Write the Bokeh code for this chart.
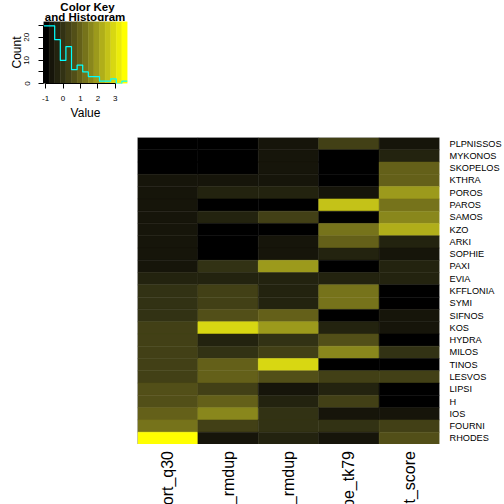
import math
import numpy as np
from bokeh.plotting import figure
from bokeh.models import (Range1d, FactorRange, FixedTicker, LinearColorMapper,
                          ColumnDataSource, Span, Spacer)
from bokeh.layouts import column, row
from bokeh.transform import transform
from bokeh.core.properties import value
from bokeh.embed import file_html
from bokeh.resources import INLINE

# ---------------- data ----------------
rows = ["PLPNISSOS", "MYKONOS", "SKOPELOS", "KTHRA", "POROS", "PAROS", "SAMOS",
        "KZO", "ARKI", "SOPHIE", "PAXI", "EVIA", "KFFLONIA", "SYMI", "SIFNOS",
        "KOS", "HYDRA", "MILOS", "TINOS", "LESVOS", "LIPSI", "H", "IOS",
        "FOURNI", "RHODES"]
col_labels = ["ort_q30", "_rmdup", "_rmdup", "pe_tk79", "t_score"]

col1 = [-0.97, -1.12, -0.97, -0.65, -0.65, -0.65, -0.65, -0.65, -0.65, -0.65,
        -0.65, -0.33, 0.00, 0.00, 0.00, 0.32, 0.32, 0.32, 0.32, 0.32,
        0.64, 0.64, 0.97, 1.29, 3.70]
col2 = [-0.97, -0.97, -0.97, -0.65, -0.33, -0.97, -0.33, -0.97, -0.97, -0.97,
        0.00, -0.33, 0.32, 0.32, 0.64, 2.91, -0.33, 0.00, 0.97, 0.97,
        0.32, 0.97, 1.61, 0.32, -0.65]
col3 = [-0.65, -0.65, -0.65, -0.65, -0.33, -0.97, 0.32, -0.97, -0.65, -0.65,
        1.94, -0.33, -0.33, -0.33, 0.97, 1.94, 0.00, 0.32, 2.91, 0.64,
        -0.65, -0.33, 0.00, 0.00, -0.33]
col4 = [0.32, -0.97, -0.97, -0.97, -0.65, 2.59, -0.97, 1.29, 0.97, -0.33,
        -0.97, -0.33, 1.29, 1.29, -0.97, -0.33, 0.64, 1.61, -0.97, 0.32,
        -0.33, 0.32, -0.65, 0.00, -0.65]
col5 = [-0.65, -0.33, 0.97, 0.97, 1.94, 1.29, 1.61, 2.26, -0.33, -0.65,
        -0.33, -0.33, -0.97, -0.97, -0.65, -0.65, -0.97, 0.00, -0.97, 0.32,
        -0.97, -0.97, -0.65, 0.32, 0.64]
columns = [col1, col2, col3, col4, col5]

palette = ["#000000", "#16150a", "#23230f", "#323214", "#424016", "#524f18",
           "#646019", "#76731b", "#89871c", "#9c9a1c", "#b0ae1a", "#c4c218",
           "#d8d712", "#ebeb0b", "#ffff00"]

key_title = ["Color Key", "and Histogram"]
key_xticks = [-1, 0, 1, 2, 3]
key_yticks = [0, 5, 10, 15, 20, 25]
key_ylabels = ["0", "", "10", "", "20", ""]

FONT = "Liberation Sans"

vals = np.array(columns, dtype=float)
vmin, vmax = float(vals.min()), float(vals.max())
breaks = np.linspace(vmin, vmax, len(palette) + 1)
counts, _ = np.histogram(vals.ravel(), bins=breaks)
hy = np.append(counts, counts[-1])
ytop = hy.max() / 0.931

mapper = LinearColorMapper(palette=palette, low=vmin, high=vmax)


def bare(p):
    p.grid.visible = False
    p.outline_line_color = None
    return p


FL, FR = 43, 10   # left / right borders of the key panel

# ---------------- key title (pixel coordinates) ----------------
tfig = bare(figure(width=137, height=21, x_range=Range1d(FL, 137 - FR), y_range=Range1d(21, 0),
                   x_axis_location=None, y_axis_location=None,
                   min_border_left=FL, min_border_right=FR, min_border_top=0,
                   min_border_bottom=0, output_backend="svg", toolbar_location=None))
tfig.text(x=[87, 84.5], y=[6, 16.5], text=key_title,
          text_align="center", text_baseline="alphabetic", text_font_style="bold",
          text_font_size="11.5px", text_font=value(FONT), text_color="black")

# ---------------- color key ----------------
key = bare(figure(width=137, height=116, x_range=Range1d(vmin, vmax), y_range=Range1d(0, ytop),
                  min_border_left=FL, min_border_right=FR, min_border_top=0,
                  min_border_bottom=54, output_backend="svg", toolbar_location=None))
key.quad(left=breaks[:-1], right=breaks[1:], bottom=0, top=ytop,
         fill_color=palette, line_color=palette, line_width=0.5)
key.step(x=breaks, y=hy, mode="after", line_color="cyan", line_width=1.2)

xa = key.xaxis[0]
xa.ticker = FixedTicker(ticks=key_xticks)
xa.major_label_overrides = {t: str(t) for t in key_xticks}
xa.bounds = (key_xticks[0], key_xticks[-1])
xa.major_tick_out = 5
xa.major_tick_in = 0
xa.minor_tick_line_color = None
xa.major_label_standoff = 7
xa.major_label_text_font_size = "8px"
xa.major_label_text_font = FONT
xa.major_label_text_color = "black"
xa.axis_label = "Value"
xa.axis_label_text_font_size = "12px"
xa.axis_label_text_font_style = "normal"
xa.axis_label_text_font = FONT
xa.axis_label_text_color = "black"
xa.axis_label_standoff = 2

yax = key.yaxis[0]
yax.ticker = FixedTicker(ticks=key_yticks)
yax.major_label_overrides = dict(zip(key_yticks, key_ylabels))
yax.bounds = (key_yticks[0], key_yticks[-1])
yax.major_tick_out = 5
yax.major_tick_in = 0
yax.minor_tick_line_color = None
yax.major_label_orientation = "parallel"
yax.major_label_standoff = 9
yax.major_label_text_font_size = "8px"
yax.major_label_text_font = FONT
yax.major_label_text_color = "black"
yax.axis_label = "Count"
yax.axis_label_text_font_size = "12px"
yax.axis_label_text_font_style = "normal"
yax.axis_label_text_font = FONT
yax.axis_label_text_color = "black"
yax.axis_label_standoff = -2

# ---------------- heatmap ----------------
xs, ys, vs = [], [], []
for j, col in enumerate(columns):
    for i, r in enumerate(rows):
        xs.append(j)
        ys.append(r)
        vs.append(col[i])
src = ColumnDataSource(dict(x=xs, y=ys, v=vs))

xr = Range1d(-0.5, len(columns) - 0.5)
heat = bare(figure(width=504, height=307, x_range=xr,
                   y_range=FactorRange(factors=rows[::-1]),
                   x_axis_location=None, y_axis_location="right",
                   min_border_left=137, min_border_right=60, min_border_top=0,
                   min_border_bottom=0, output_backend="svg", toolbar_location=None))
heat.rect(x="x", y="y", width=1, height=1, source=src,
          fill_color=transform("v", mapper), line_color=transform("v", mapper),
          line_width=0.5)
ya = heat.yaxis[0]
ya.major_tick_line_color = None
ya.minor_tick_line_color = None
ya.axis_line_color = None
ya.major_label_standoff = 4
ya.major_label_text_font_size = "9.2px"
ya.major_label_text_font = FONT
ya.major_label_text_color = "black"

heat.add_layout(Span(location=-0.5, dimension="height", line_color="#9a9a9a", line_width=1))
heat.add_layout(Span(location=len(rows), dimension="width", line_color="#9a9a9a", line_width=1))

# ---------------- column labels (clipped at the page bottom, as in the original) ----------------
cfig = bare(figure(width=504, height=60, x_range=xr, y_range=Range1d(0, 60),
                   x_axis_location=None, y_axis_location=None,
                   min_border_left=137, min_border_right=60, min_border_top=0,
                   min_border_bottom=0, output_backend="svg", toolbar_location=None))
cfig.text(x=list(range(len(col_labels))), y=[53.5] * len(col_labels), text=col_labels,
          angle=math.pi / 2, text_align="right", text_baseline="middle",
          text_font_size="16px", text_font=value(FONT), text_color="black")

layout = column(row(column(tfig, key), Spacer(width=367, height=137)), heat, cfig)
open("out.html", "w").write(file_html(layout, INLINE))
